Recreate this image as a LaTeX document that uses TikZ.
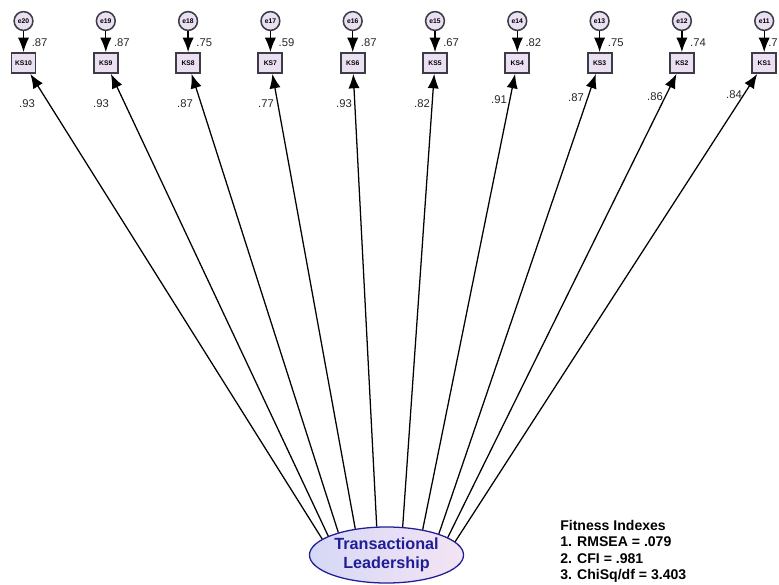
\documentclass[tikz,border=0pt]{standalone}
\usepackage{fontspec}
\setmainfont{Liberation Sans}
\usepackage{tikz}
\usetikzlibrary{arrows.meta}
\usetikzlibrary{shapes.geometric}
\usepackage{xcolor}
\definecolor{lav}{RGB}{234,224,242}
\definecolor{bord}{RGB}{60,60,70}
\definecolor{navy}{RGB}{30,30,150}
\definecolor{lavL}{RGB}{214,216,246}
\definecolor{lavR}{RGB}{244,228,244}

\begin{document}
\begin{tikzpicture}[x=0.025cm,y=-0.025cm]
\tikzset{>={Latex[width=2.8mm,length=3.6mm]}}
\tikzstyle{err} =[circle, draw=bord, line width=1.1pt, fill=lav, inner sep=0pt, minimum size=4.7mm, font=\fontsize{4.8}{5}\selectfont\bfseries]
\tikzstyle{obs} =[rectangle, draw=bord, line width=1.3pt, fill=lav, inner sep=0pt, minimum width=6mm, minimum height=5mm, font=\fontsize{4.8}{5}\selectfont\bfseries]
\tikzstyle{coef} =[inner sep=0pt, text=black!85, font=\fontsize{8}{9}\selectfont]
\tikzset{path/.style={->, line width=0.9pt}}

\useasboundingbox (0,0) rectangle (779,585);

% error terms
\node[err](e20) at (23.5,21){e20};
\node[err](e19) at (105.8,21){e19};
\node[err](e18) at (188.1,21){e18};
\node[err](e17) at (270.4,21){e17};
\node[err](e16) at (352.7,21){e16};
\node[err](e15) at (435,21){e15};
\node[err](e14) at (517.3,21){e14};
\node[err](e13) at (599.6,21){e13};
\node[err](e12) at (681.9,21){e12};
\node[err](e11) at (764.2,21){e11};

% indicators
\node[obs](ks10) at (23.5,63){KS10};
\node[obs](ks9) at (105.8,63){KS9};
\node[obs](ks8) at (188.1,63){KS8};
\node[obs](ks7) at (270.4,63){KS7};
\node[obs](ks6) at (352.7,63){KS6};
\node[obs](ks5) at (435,63){KS5};
\node[obs](ks4) at (517.3,63){KS4};
\node[obs](ks3) at (599.6,63){KS3};
\node[obs](ks2) at (681.9,63){KS2};
\node[obs](ks1) at (764.2,63){KS1};

% latent
\node[ellipse, draw=navy, line width=0.9pt, left color=lavL, right color=lavR,
  minimum width=3.85cm, minimum height=1.4cm, inner sep=0pt, align=center,
  text=navy, font=\fontsize{11.5}{13.5}\selectfont\bfseries](tl) at (386.5,555){Transactional\\Leadership};

\draw[path] (e20) -- (ks10);
\draw[path] (e19) -- (ks9);
\draw[path] (e18) -- (ks8);
\draw[path] (e17) -- (ks7);
\draw[path] (e16) -- (ks6);
\draw[path] (e15) -- (ks5);
\draw[path] (e14) -- (ks4);
\draw[path] (e13) -- (ks3);
\draw[path] (e12) -- (ks2);
\draw[path] (e11) -- (ks1);

\draw[path] (tl.166) -- (ks10);
\draw[path] (tl.162) -- (ks9);
\draw[path] (tl.155) -- (ks8);
\draw[path] (tl.140) -- (ks7);
\draw[path] (tl.109) -- (ks6);
\draw[path] (tl.60) -- (ks5);
\draw[path] (tl.35) -- (ks4);
\draw[path] (tl.22) -- (ks3);
\draw[path] (tl.16) -- (ks2);
\draw[path] (tl.11.5) -- (ks1);

% variances
\node[coef, anchor=west](r10) at (31.5,43){.87};
\node[coef, anchor=west](r9) at (113.8,43){.87};
\node[coef, anchor=west](r8) at (196.1,43){.75};
\node[coef, anchor=west](r7) at (278.4,43){.59};
\node[coef, anchor=west](r6) at (360.7,43){.87};
\node[coef, anchor=west](r5) at (443,43){.67};
\node[coef, anchor=west](r4) at (525.3,43){.82};
\node[coef, anchor=west](r3) at (607.6,43){.75};
\node[coef, anchor=west](r2) at (689.9,43){.74};
\node[coef, anchor=west](r1) at (768,43){.7};

% loadings
\node[coef](l10) at (27,104){.93};
\node[coef](l9) at (101,104){.93};
\node[coef](l8) at (185,104){.87};
\node[coef](l7) at (266,104){.77};
\node[coef](l6) at (344,104){.93};
\node[coef](l5) at (422,104){.82};
\node[coef](l4) at (499,100){.91};
\node[coef](l3) at (576,98){.87};
\node[coef](l2) at (655,97){.86};
\node[coef](l1) at (734,95){.84};

\node[anchor=north west, align=left, inner sep=0pt,
  font=\fontsize{10}{11.7}\selectfont\bfseries](fit) at (560,520){Fitness Indexes\\1. RMSEA = .079\\2. CFI = .981\\3. ChiSq/df = 3.403};
\end{tikzpicture}
\end{document}
